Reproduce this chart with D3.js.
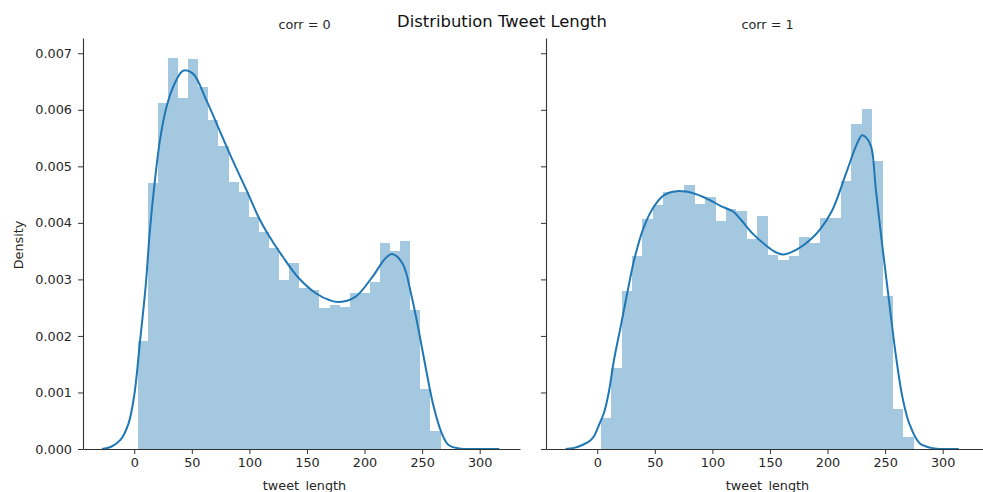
<!DOCTYPE html>
<html>
<head>
<meta charset="utf-8">
<script src="https://cdn.jsdelivr.net/npm/d3@7"></script>
<style>
  body { margin: 0; background: #fff; }
  svg { display: block; font-family: "DejaVu Sans", sans-serif; }
  .tick text { font-size: 12.8px; fill: #262626; }
  .tick line { stroke: #333; }
</style>
</head>
<body>
<div id="chart"></div>
<script>
// Distribution Tweet Length - two facets (corr = 0 / corr = 1)

// histogram: 30 equal bins over the data range, densities per bin
const leftRange = [3, 266];
const leftDensity = [0.00191, 0.00471, 0.00612, 0.00692, 0.00621, 0.00690, 0.00640, 0.00582, 0.00536, 0.00473,
    0.00455, 0.00411, 0.00383, 0.00356, 0.00299, 0.00329, 0.00284, 0.00281, 0.00250, 0.00255,
    0.00252, 0.00276, 0.00276, 0.00296, 0.00364, 0.00351, 0.00368, 0.00246, 0.00106, 0.00032];

const rightRange = [3, 275];
const rightDensity = [0.00054, 0.00144, 0.00279, 0.00342, 0.00406, 0.00431, 0.00454, 0.00454, 0.00467, 0.00434,
    0.00446, 0.00403, 0.00424, 0.00421, 0.00371, 0.00412, 0.00344, 0.00335, 0.00342, 0.00375,
    0.00365, 0.00408, 0.00408, 0.00474, 0.00574, 0.00601, 0.00510, 0.00270, 0.00070, 0.00021];

// kde curves
const leftKdeX = [-28, -20, -12, -5, 0, 5, 10, 13.6, 18, 22.3, 28, 35, 42.4, 51, 62.6, 74, 85.6, 97, 108, 115, 129,
    143, 158, 170, 178, 192, 207, 218, 224, 233, 241, 247, 253, 260, 267, 273, 282, 300, 317];
const leftKdeY = [0, 0.00004, 0.00016, 0.00045, 0.00095, 0.0019, 0.0029, 0.00387, 0.00476, 0.00546, 0.00605, 0.00646, 0.00669, 0.00664, 0.00617, 0.00564, 0.0051, 0.0046, 0.0041, 0.00384, 0.0034,
    0.00302, 0.00275, 0.00263, 0.0026, 0.00269, 0.00305, 0.00337, 0.00345, 0.00328, 0.00269, 0.0021, 0.00145, 0.00075, 0.00028, 0.00007, 0.00001, 0, 0];

const rightKdeX = [-27.5, -20, -12, -6, -3, 2, 6, 10, 14.5, 20, 26, 32, 40, 49, 58, 69, 84, 98, 107, 118,
    125, 135, 146, 155, 162, 175, 185, 193, 204, 216, 225, 230, 234, 238, 242, 248, 254, 259.5, 265, 271, 280, 290, 314];
const rightKdeY = [0, 0.00002, 0.00008, 0.00015, 0.00022, 0.00045, 0.00065, 0.001, 0.00157, 0.00213, 0.00275, 0.00334, 0.0039, 0.00428, 0.00449, 0.00456, 0.00452, 0.0044, 0.0043, 0.0042,
    0.00405, 0.00381, 0.00361, 0.00348, 0.00344, 0.00355, 0.0037, 0.00387, 0.00422, 0.00487, 0.00537, 0.00555, 0.0055, 0.00534, 0.00458, 0.00352, 0.00252, 0.00163, 0.00092, 0.00045, 0.0001, 0.00002, 0];

const xTicks = [0, 50, 100, 150, 200, 250, 300];
const yTicks = [0, 0.001, 0.002, 0.003, 0.004, 0.005, 0.006, 0.007];

const panels = [
    { title: 'corr = 0', range: leftRange, density: leftDensity, kx: leftKdeX, ky: leftKdeY, x0: 83, x1: 520, labels: true },
    { title: 'corr = 1', range: rightRange, density: rightDensity, kx: rightKdeX, ky: rightKdeY, x0: 546, x1: 983, labels: false }
];

const width = 983, height = 492;
const barColor = '#a5c8e1';
const lineColor = '#1f77b4';

const svg = d3.select('#chart').append('svg')
    .attr('width', width)
    .attr('height', height);

const y = d3.scaleLinear().domain([0, 0.00727]).range([449, 38]);

panels.forEach(p => {
    const x = d3.scaleLinear().domain([-44.5, 335]).range([p.x0, p.x1]);
    const g = svg.append('g');

    // bins
    const n = p.density.length;
    const step = (p.range[1] - p.range[0]) / n;
    const bins = p.density.map((d, i) => ({ lo: p.range[0] + i * step, hi: p.range[0] + (i + 1) * step, d: d }));

    g.append('g')
        .selectAll('rect')
        .data(bins)
        .enter().append('rect')
        .attr('x', d => x(d.lo))
        .attr('width', d => x(d.hi) - x(d.lo))
        .attr('y', d => y(d.d))
        .attr('height', d => y(0) - y(d.d))
        .attr('fill', barColor)
        .attr('shape-rendering', 'crispEdges');

    // kde line
    const pts = p.kx.map((v, i) => [v, p.ky[i]]);
    g.append('path')
        .datum(pts)
        .attr('fill', 'none')
        .attr('stroke', lineColor)
        .attr('stroke-width', 2)
        .attr('d', d3.line().x(d => x(d[0])).y(d => y(d[1])).curve(d3.curveCatmullRom));

    // axes
    const xAxis = g.append('g')
        .attr('transform', `translate(0,${y(0)})`)
        .call(d3.axisBottom(x).tickValues(xTicks).tickSize(5).tickSizeOuter(0).tickPadding(4));
    const yAxis = g.append('g')
        .attr('transform', `translate(${p.x0},0)`)
        .call(d3.axisLeft(y).tickValues(yTicks).tickSize(5).tickSizeOuter(0).tickPadding(6)
            .tickFormat(p.labels ? d3.format('.3f') : ''));

    [xAxis, yAxis].forEach(a => {
        a.select('.domain').attr('stroke', '#333').attr('stroke-width', 1.1);
        a.selectAll('.tick text').attr('font-family', 'DejaVu Sans');
    });

    // facet title
    svg.append('text')
        .attr('x', (p.x0 + p.x1) / 2 + 3)
        .attr('y', 29)
        .attr('text-anchor', 'middle')
        .attr('font-size', '12.8px')
        .attr('fill', '#262626')
        .text(p.title);

    // x label
    svg.append('text')
        .attr('x', (p.x0 + p.x1) / 2 + 3)
        .attr('y', 490)
        .attr('text-anchor', 'middle')
        .attr('font-size', '12.8px')
        .attr('fill', '#262626')
        .text('tweet_length');
});

// y label
svg.append('text')
    .attr('transform', 'translate(23,245) rotate(-90)')
    .attr('text-anchor', 'middle')
    .attr('font-size', '12.8px')
    .attr('fill', '#262626')
    .text('Density');

// figure title
svg.append('text')
    .attr('x', 502)
    .attr('y', 27)
    .attr('text-anchor', 'middle')
    .attr('font-size', '16.4px')
    .attr('fill', '#111')
    .text('Distribution Tweet Length');
</script>
</body>
</html>
